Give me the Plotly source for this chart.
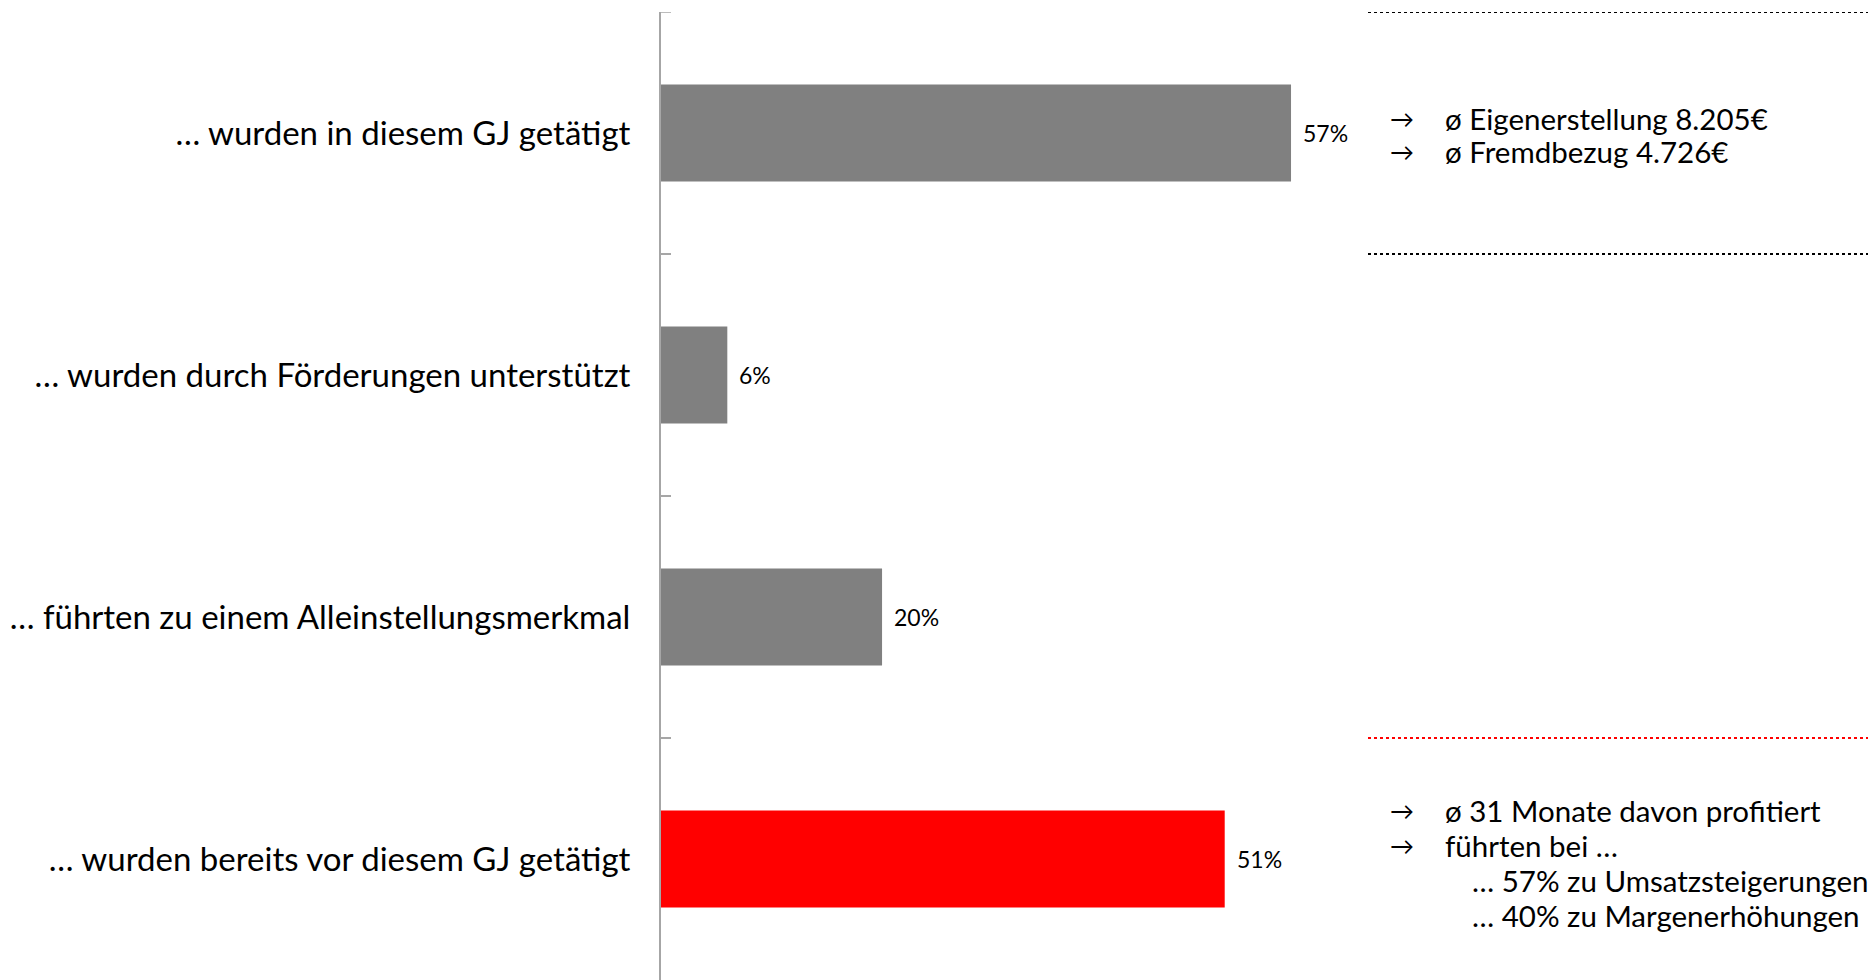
import plotly.graph_objects as go

# Survey categories (top to bottom) and shares in percent
categories = [
    "… wurden in diesem GJ getätigt",
    "… wurden durch Förderungen unterstützt",
    "… führten zu einem Alleinstellungsmerkmal",
    "… wurden bereits vor diesem GJ getätigt",
]
shares = [57, 6, 20, 51]
bar_colors = ["#808080", "#808080", "#808080", "#ff0000"]

# Side notes
notes_top = ["ø Eigenerstellung 8.205€", "ø Fremdbezug 4.726€"]
notes_bottom = ["ø 31 Monate davon profitiert", "führten bei …"]
notes_bottom_sub = ["… 57% zu Umsatzsteigerungen", "… 40% zu Margenerhöhungen"]

FONT = "Lato"
W, H = 1868, 980
L, T = 661, 12
x_max = 109.2
AXIS_GRAY = "#a6a6a6"

fig = go.Figure(
    go.Bar(
        y=categories,
        x=shares,
        orientation="h",
        marker=dict(color=bar_colors, line=dict(width=0)),
        width=0.4,
        hoverinfo="skip",
    )
)

annotations = []
for cat, v in zip(categories, shares):
    annotations.append(dict(
        x=v, y=cat, xref="x", yref="y", text=f"{v}%", showarrow=False,
        xanchor="left", xshift=10, font=dict(family=FONT, size=23, color="#000"),
    ))

plot_w = W - L
px = lambda p: (p - L) / plot_w
arrow_x, text_x, sub_x = px(1388), px(1443), px(1470)

def note(x, y, text, size=29.5):
    annotations.append(dict(
        x=x, y=y, xref="paper", yref="paper", text=text, showarrow=False,
        xanchor="left", yanchor="middle", font=dict(family=FONT, size=size, color="#000"),
    ))

plot_h = H - T
py = lambda p: 1 - (p - T) / plot_h

for i, t in enumerate(notes_top):
    y = py(118 + 34 * i)
    note(arrow_x, y, "→", 24)
    note(text_x, y, t)
for i, t in enumerate(notes_bottom):
    y = py(810 + 35 * i)
    note(arrow_x, y, "→", 24)
    note(text_x, y, t)
for i, t in enumerate(notes_bottom_sub):
    note(sub_x, py(880 + 35 * i), t)

shapes = []
for yb, col in [(-0.5, "#000"), (0.5, "#000"), (2.5, "#ff0000")]:
    shapes.append(dict(
        type="line", xref="paper", yref="y", x0=px(1368), x1=1, y0=yb, y1=yb,
        line=dict(color=col, width=2, dash="dot"),
    ))
# tick mark on the upper end of the category axis
shapes.append(dict(
    type="line", xref="paper", yref="y", x0=0, x1=10 / plot_w, y0=-0.5, y1=-0.5,
    line=dict(color=AXIS_GRAY, width=1.5),
))

fig.update_layout(
    width=W, height=H,
    margin=dict(l=L, r=0, t=T, b=0),
    paper_bgcolor="white", plot_bgcolor="white",
    showlegend=False,
    annotations=annotations,
    shapes=shapes,
    xaxis=dict(range=[0, x_max], visible=False, fixedrange=True),
    yaxis=dict(
        type="category",
        range=[3.5, -0.5],
        showline=True, linecolor=AXIS_GRAY, linewidth=2,
        ticks="inside", tickson="boundaries", ticklen=10,
        tickcolor=AXIS_GRAY, tickwidth=1.5,
        showgrid=False, zeroline=False,
        tickfont=dict(family=FONT, size=33, color="#000"),
        ticklabelstandoff=22,
    ),
)

fig.write_html("out.html")
